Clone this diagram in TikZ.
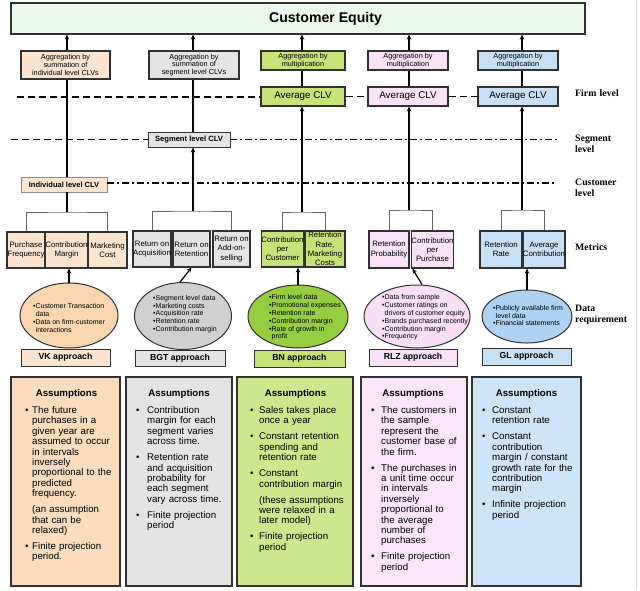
\documentclass[tikz,border=0pt]{standalone}
\usepackage{fontspec}
\setmainfont{Liberation Sans}
\newfontfamily\lserif{Liberation Serif}
\usetikzlibrary{arrows.meta,shapes.geometric,calc}
\definecolor{cefill}{RGB}{236,248,236}
\definecolor{bordc}{RGB}{50,50,50}
\definecolor{vkbox}{RGB}{252,228,206}
\definecolor{vkell}{RGB}{250,214,176}
\definecolor{vkas}{RGB}{251,220,190}
\definecolor{bgtbox}{RGB}{228,228,228}
\definecolor{bgtell}{RGB}{208,208,208}
\definecolor{bgtas}{RGB}{228,228,228}
\definecolor{bnbox}{RGB}{200,226,122}
\definecolor{bnell}{RGB}{150,205,65}
\definecolor{bnas}{RGB}{206,231,140}
\definecolor{rlzbox}{RGB}{251,226,248}
\definecolor{rlzell}{RGB}{250,222,246}
\definecolor{rlzas}{RGB}{251,230,249}
\definecolor{glbox}{RGB}{200,224,246}
\definecolor{glell}{RGB}{176,210,242}
\definecolor{glas}{RGB}{206,228,248}
\newcommand{\aggf}{\fontsize{7.3}{7.8}\selectfont}
\newcommand{\metf}{\fontsize{7.8}{9.2}\selectfont}
\newcommand{\ellf}{\fontsize{7}{7.8}\selectfont}
\newcommand{\asmf}{\fontsize{9.7}{10.4}\selectfont}
\newlength{\bind}
\newcommand{\aitem}[1]{\par\noindent\hangindent=\bind\hangafter=1\makebox[\bind][l]{\textbullet}#1\par}
\newcommand{\anote}[1]{\par\noindent\hangindent=\bind\hangafter=0 #1\par}
\newcommand{\agap}{\vspace{5.6pt}}
\newcommand{\ei}{\hspace*{2.6pt}}
\begin{document}
\begin{tikzpicture}[x=1pt,y=-1pt,
  box/.style={draw=bordc, line width=1.1pt, inner sep=0pt, align=center},
  arr/.style={line width=1.2pt, -{Stealth[length=5pt,width=4.5pt]}},
  plain/.style={line width=1.2pt},
  bracket/.style={draw=black!60, line width=0.8pt},
  dashline/.style={line width=1.2pt, dash pattern=on 7pt off 4pt},
  dashdotline/.style={line width=1.2pt, dash pattern=on 7pt off 3pt on 2pt off 3pt},
  ell/.style={draw=bordc, line width=1pt, ellipse, inner sep=0pt},
  etext/.style={font=\ellf, align=left, inner sep=0pt},
  appr/.style={box, line width=0.9pt, font=\fontsize{8.7}{10}\selectfont\bfseries},
  ahead/.style={font=\fontsize{9.7}{11}\selectfont\bfseries, inner sep=0pt},
  atext/.style={font=\asmf, text width=112pt, align=left, inner sep=0pt},
  lvl/.style={font=\lserif\bfseries\fontsize{9.8}{11}\selectfont, text width=64pt, align=left, inner sep=0pt}
]
\useasboundingbox (0,0) rectangle (640,590);
\fill[white] (0,0) rectangle (640,590);
\draw[black!15, line width=1pt] (636,0) -- (636,590);

% top
\node[box, fill=cefill, minimum width=574, minimum height=31, font=\fontsize{14.1}{16}\selectfont\bfseries] (ce) at (298,18.5) {\hspace*{55pt}Customer Equity};

% aggregation boxes
\node[box, fill=vkbox, minimum width=89, minimum height=28, font=\aggf] (vkagg) at (65.5,65) {Aggregation by\\summation of\\individual level CLVs};
\node[box, fill=bgtbox, minimum width=90, minimum height=28, font=\aggf] (bgtagg) at (194,65) {Aggregation by\\summation of\\segment level CLVs};
\node[box, fill=bnbox, minimum width=84, minimum height=19, font=\aggf] (bnagg) at (303,60.5) {Aggregation by\\multiplication};
\node[box, fill=rlzbox, minimum width=80, minimum height=19, font=\aggf] (rlzagg) at (408,60.5) {Aggregation by\\multiplication};
\node[box, fill=glbox, minimum width=80, minimum height=19, font=\aggf] (glagg) at (518,60.5) {Aggregation by\\multiplication};

% average CLV
\node[box, fill=bnbox, minimum width=84, minimum height=19, font=\fontsize{9.8}{11}\selectfont] (bnavg) at (303,96.5) {Average CLV};
\node[box, fill=rlzbox, minimum width=80, minimum height=19, font=\fontsize{9.8}{11}\selectfont] (rlzavg) at (408,96.5) {Average CLV};
\node[box, fill=glbox, minimum width=80, minimum height=19, font=\fontsize{9.8}{11}\selectfont] (glavg) at (518,96.5) {Average CLV};

% segment / individual
\node[box, line width=0.9pt, fill=bgtbox, minimum width=82, minimum height=15, font=\fontsize{7.6}{9}\selectfont\bfseries] (segclv) at (189,139.5) {Segment level CLV};
\node[box, line width=0.9pt, draw=black!45, fill=vkbox, minimum width=86, minimum height=15, font=\fontsize{7.5}{9}\selectfont\bfseries] (indclv) at (64,184.5) {Individual level CLV};

% level lines
\coordinate (firmL) at (17,97);
\coordinate (segL) at (11,139.5);
\coordinate (segR) at (557,139.5);
\coordinate (custR) at (557,183);
\draw[dashline] (firmL) -- (firmL -| bnavg.west);
\draw[dashline] (bnavg.east) -- (rlzavg.west);
\draw[dashline] (rlzavg.east) -- (glavg.west);
\draw[dashline] (segL) -- (segclv.west);
\draw[dashdotline] (segclv.east) -- (segR);
\draw[dashdotline] (indclv.east |- custR) -- (custR);

% level labels
\node[lvl, anchor=base west] (lfirm) at (575,96.5) {Firm level};
\node[lvl, anchor=base west] (lseg) at (575,141.5) {Segment\\level};
\node[lvl, anchor=base west] (lcust) at (575,185.5) {Customer\\level};
\node[lvl, anchor=base west] (lmet) at (575,250.5) {Metrics};
\node[lvl, anchor=base west] (ldata) at (575,311.5) {Data\\requirement};

% metrics
\node[box, fill=vkbox, minimum width=38, minimum height=36, font=\metf] (vkm1) at (26,250) {Purchase\\Frequency};
\node[box, fill=vkbox, minimum width=41, minimum height=36, font=\metf] (vkm2) at (66.5,250) {Contribution\\Margin};
\node[box, fill=vkbox, minimum width=39, minimum height=36, font=\metf] (vkm3) at (107.5,250) {Marketing\\Cost};
\node[box, fill=bgtbox, minimum width=38, minimum height=36, font=\metf] (bgtm1) at (152,249) {Return on\\Acquisition};
\node[box, fill=bgtbox, minimum width=37, minimum height=36, font=\metf] (bgtm2) at (191.5,249) {Return on\\Retention};
\node[box, fill=bgtbox, minimum width=37, minimum height=36, font=\metf] (bgtm3) at (231.5,249) {Return on\\Add-on-\\selling};
\node[box, fill=bnbox, minimum width=41, minimum height=36, font=\metf] (bnm1) at (282.5,249) {Contribution\\per\\Customer};
\node[box, fill=bnbox, minimum width=40, minimum height=36, font=\metf] (bnm2) at (325,249) {Retention\\Rate,\\Marketing\\Costs};
\node[box, fill=rlzbox, minimum width=40, minimum height=37, font=\metf] (rlzm1) at (389,249.5) {Retention\\Probability};
\node[box, fill=rlzbox, minimum width=41, minimum height=37, font=\metf] (rlzm2) at (432.5,249.5) {Contribution\\per\\Purchase};
\node[box, fill=glbox, minimum width=42, minimum height=37, font=\metf] (glm1) at (501,249.5) {Retention\\Rate};
\node[box, fill=glbox, minimum width=42, minimum height=37, font=\metf] (glm2) at (544,249.5) {Average\\Contribution};

% column connectors
\coordinate (vkbr) at (67,212);
\coordinate (bgtbr) at (193,211);
\coordinate (bnbr) at (302,212);
\coordinate (rlzbr) at (409,210);
\coordinate (glbr) at (522,210);

\draw[bracket] (vkm1.north) |- (vkbr) -| (vkm3.north);
\draw[bracket] (bgtm1.north) |- (bgtbr) -| (bgtm3.north);
\draw[bracket] (bnm1.north) |- (bnbr) -| (bnm2.north);
\draw[bracket] (rlzm1.north) |- (rlzbr) -| (rlzm2.north);
\draw[bracket] (glm1.north) |- (glbr) -| (glm2.north);

\draw[plain] (vkbr) -- (vkbr |- indclv.south);
\draw[plain] (vkbr |- indclv.north) -- (vkbr |- vkagg.south);
\draw[arr] (vkbr |- vkagg.north) -- (vkbr |- ce.south);

\draw[arr] (bgtbr) -- (bgtbr |- segclv.south);
\draw[plain] (bgtbr |- segclv.north) -- (bgtbr |- bgtagg.south);
\draw[arr] (bgtbr |- bgtagg.north) -- (bgtbr |- ce.south);

\draw[arr] (bnbr) -- (bnbr |- bnavg.south);
\draw[plain] (bnbr |- bnavg.north) -- (bnbr |- bnagg.south);
\draw[arr] (bnbr |- bnagg.north) -- (bnbr |- ce.south);

\draw[arr] (rlzbr) -- (rlzbr |- rlzavg.south);
\draw[plain] (rlzbr |- rlzavg.north) -- (rlzbr |- rlzagg.south);
\draw[arr] (rlzbr |- rlzagg.north) -- (rlzbr |- ce.south);

\draw[arr] (glbr) -- (glbr |- glavg.south);
\draw[plain] (glbr |- glavg.north) -- (glbr |- glagg.south);
\draw[arr] (glbr |- glagg.north) -- (glbr |- ce.south);

% ellipses
\node[ell, fill=vkell, minimum width=98, minimum height=65] (vkell) at (69,315.5) {};
\node[ell, fill=bgtell, minimum width=97, minimum height=67] (bgtell) at (183,316) {};
\node[ell, fill=bnell, minimum width=100, minimum height=63] (bnell) at (298,316.5) {};
\node[ell, fill=rlzell, minimum width=106, minimum height=63] (rlzell) at (417,316.5) {};
\node[ell, fill=glell, minimum width=90, minimum height=53] (glell) at (527,316.5) {};

\node[etext] (vket) at (69,318) {\textbullet Customer Transaction\\\ei data\\\textbullet Data on firm-customer\\\ei interactions};
\node[etext] (bgtet) at (185,314) {\textbullet Segment level data\\\textbullet Marketing costs\\\textbullet Acquisition rate\\\textbullet Retention rate\\\textbullet Contribution margin};
\node[etext] (bnet) at (305,317.5) {\textbullet Firm level data\\\textbullet Promotional expenses\\\textbullet Retention rate\\\textbullet Contribution margin\\\textbullet Rate of growth in\\\ei profit};
\node[etext] (rlzet) at (425,317.5) {\textbullet Data from sample\\\textbullet Customer ratings on\\\ei drivers of customer equity\\\textbullet Brands purchased recently\\\textbullet Contribution margin\\\textbullet Frequency};
\node[etext] (glet) at (528,315.5) {\textbullet Publicly available firm\\\ei level data\\\textbullet Financial statements};

% ellipse to metrics arrows
\draw[arr] (vkell.north) -- (vkell.north |- vkm2.south);
\draw[arr] (bgtell.95) -- (bgtm2.south);
\draw[arr] (bnell.north) -- (bnell.north |- bnm1.south);
\draw[arr] ($(rlzell.north)+(5,0)$) -- ($(rlzm2.south west)+(1.5,0)$);
\draw[arr] (glell.north) -- (glell.north |- glm2.south);

% approach labels
\node[appr, fill=vkbox, minimum width=89, minimum height=17] (vkap) at (65.5,357.5) {VK approach};
\node[appr, fill=bgtbox, minimum width=90, minimum height=16] (bgtap) at (180,358) {BGT approach};
\node[appr, fill=bnbox, minimum width=91, minimum height=17] (bnap) at (299.5,358.5) {BN approach};
\node[appr, fill=rlzbox, minimum width=88, minimum height=17] (rlzap) at (413,357.5) {RLZ approach};
\node[appr, fill=glbox, minimum width=89, minimum height=17] (glap) at (526.5,356.5) {GL approach};

% assumptions boxes
\node[box, fill=vkas, minimum width=109, minimum height=209] (vkas) at (65.5,481.5) {};
\node[box, fill=bgtas, minimum width=106, minimum height=209] (bgtas) at (179,481.5) {};
\node[box, fill=bnas, minimum width=116, minimum height=209] (bnas) at (295,481.5) {};
\node[box, fill=rlzas, minimum width=106, minimum height=209] (rlzas) at (414,481.5) {};
\node[box, fill=glas, minimum width=109, minimum height=209] (glas) at (526.5,481.5) {};

\node[ahead, anchor=base] (vkah) at (66.5,396.5) {Assumptions};
\node[ahead, anchor=base] (bgtah) at (179,396.5) {Assumptions};
\node[ahead, anchor=base] (bnah) at (295.5,396.5) {Assumptions};
\node[ahead, anchor=base] (rlzah) at (413,396.5) {Assumptions};
\node[ahead, anchor=base] (glah) at (526.5,396.5) {Assumptions};

\node[atext, anchor=base west] (vkat) at (25,403) {\setlength{\bind}{7pt}%
\aitem{The future\newline purchases in a\newline given year are\newline assumed to occur\newline in intervals\newline inversely\newline proportional to the\newline predicted\newline frequency.}\agap
\anote{(an assumption\newline that can be\newline relaxed)}\agap
\aitem{Finite projection\newline period.}};

\node[atext, anchor=base west] (bgtat) at (136,403) {\setlength{\bind}{11pt}%
\aitem{Contribution\newline margin for each\newline segment varies\newline across time.}\agap
\aitem{Retention rate\newline and acquisition\newline probability for\newline each segment\newline vary across time.}\agap
\aitem{Finite projection\newline period}};

\node[atext, anchor=base west] (bnat) at (250,403) {\setlength{\bind}{9pt}%
\aitem{Sales takes place\newline once a year}\agap
\aitem{Constant retention\newline spending and\newline retention rate}\agap
\aitem{Constant\newline contribution margin}\agap
\anote{(these assumptions\newline were relaxed in a\newline later model)}\agap
\aitem{Finite projection\newline period}};

\node[atext, anchor=base west] (rlzat) at (371,403) {\setlength{\bind}{10pt}%
\aitem{The customers in\newline the sample\newline represent the\newline customer base of\newline the firm.}\agap
\aitem{The purchases in\newline a unit time occur\newline in intervals\newline inversely\newline proportional to\newline the average\newline number of\newline purchases}\agap
\aitem{Finite projection\newline period}};

\node[atext, anchor=base west] (glat) at (482,403) {\setlength{\bind}{10pt}%
\aitem{Constant\newline retention rate}\agap
\aitem{Constant\newline contribution\newline margin / constant\newline growth rate for the\newline contribution\newline margin}\agap
\aitem{Infinite projection\newline period}};
\end{tikzpicture}
\end{document}
